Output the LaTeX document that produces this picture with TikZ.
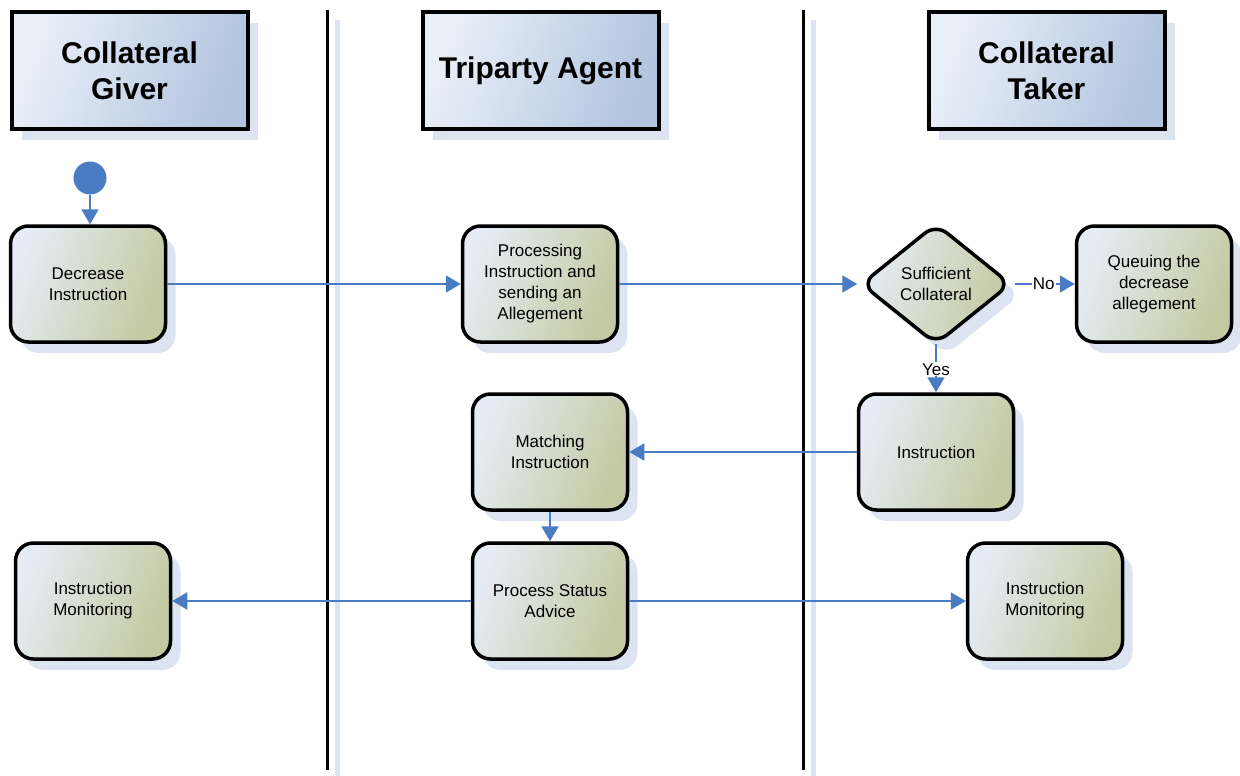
\documentclass[tikz,border=0pt]{standalone}
\usepackage{fontspec}
\setmainfont{Liberation Sans}
\usetikzlibrary{shapes.geometric,arrows.meta,shadows}
\definecolor{flow}{HTML}{4A7CC3}
\definecolor{shad}{HTML}{DCE4F1}
\definecolor{hdA}{HTML}{EAF0F8}
\definecolor{hdB}{HTML}{B2C4DF}
\definecolor{bxA}{HTML}{E6ECF5}
\definecolor{bxB}{HTML}{C3C9A0}
\begin{document}
\begin{tikzpicture}[x=1pt,y=-1pt,
  header/.style={draw=black, line width=4pt, minimum width=236pt, minimum height=116pt,
    top color=hdA, bottom color=hdB, shading angle=70,
    font=\fontsize{30}{36}\selectfont\bfseries, align=center,
    general shadow={fill=shad, draw=none, shadow xshift=10pt, shadow yshift=-11pt}},
  task/.style={draw=black, line width=3.5pt, rounded corners=18pt, minimum width=155pt, minimum height=116pt,
    top color=bxA, bottom color=bxB, shading angle=70,
    font=\fontsize{17}{21}\selectfont, align=center,
    general shadow={fill=shad, draw=none, shadow xshift=10pt, shadow yshift=-11pt}},
  decision/.style={shape=diamond, aspect=1.236, draw=black, line width=3.5pt, rounded corners=14pt,
    minimum width=150pt, minimum height=121pt, inner sep=0pt,
    top color=bxA, bottom color=bxB, shading angle=70,
    font=\fontsize{17}{21}\selectfont, align=center,
    general shadow={fill=shad, draw=none, shadow xshift=10pt, shadow yshift=-11pt}},
  flowarrow/.style={draw=flow, line width=2pt, -{Triangle[width=17pt,length=15pt]}},
  lab/.style={fill=white, font=\fontsize{17}{21}\selectfont, inner sep=1pt},
  lane/.style={draw=black, line width=3pt},
  laneshadow/.style={draw=shad, line width=5pt}]
\useasboundingbox (0,0) rectangle (1240,776);

% lane separators
\coordinate (s1t) at (337,20); \coordinate (s1b) at (337,776);
\coordinate (s2t) at (813,20); \coordinate (s2b) at (813,776);
\coordinate (l1t) at (327,10); \coordinate (l1b) at (327,770);
\coordinate (l2t) at (803,10); \coordinate (l2b) at (803,770);
\draw[laneshadow] (s1t) -- (s1b);
\draw[laneshadow] (s2t) -- (s2b);
\draw[lane] (l1t) -- (l1b);
\draw[lane] (l2t) -- (l2b);

% headers
\node[header] (hG) at (129.5,70.5) {Collateral\\Giver};
\node[header] (hT) at (540.5,70.5) {Triparty Agent};
\node[header] (hK) at (1046.5,70.5) {Collateral\\Taker};

% start
\node[circle, fill=flow, minimum size=33pt, inner sep=0pt] (start) at (90,178) {};

% tasks
\node[task] (dec) at (88,284) {Decrease\\Instruction};
\node[task] (proc) at (540,284) {Processing\\Instruction and\\sending an\\Allegement};
\node[decision] (suff) at (936,284) {Sufficient\\Collateral};
\node[task] (queue) at (1154,284) {Queuing the\\decrease\\allegement};
\node[task] (instr) at (936,452) {Instruction};
\node[task] (match) at (550,452) {Matching\\Instruction};
\node[task] (psa) at (550,601) {Process Status\\Advice};
\node[task] (monG) at (93,601) {Instruction\\Monitoring};
\node[task] (monK) at (1045,601) {Instruction\\Monitoring};

% connectors
\draw[flowarrow] (start) -- (start |- dec.north);
\draw[flowarrow] (dec) -- (proc);
\draw[flowarrow, shorten >=2pt] (proc) -- (suff);
\draw[flowarrow, shorten <=2pt] (suff) -- node[lab] {No} (queue);
\draw[flowarrow, shorten <=-2pt] (suff) -- node[lab] {Yes} (instr);
\draw[flowarrow] (instr) -- (match);
\draw[flowarrow] (match) -- (psa);
\draw[flowarrow] (psa) -- (monG);
\draw[flowarrow] (psa) -- (monK);
\end{tikzpicture}
\end{document}
